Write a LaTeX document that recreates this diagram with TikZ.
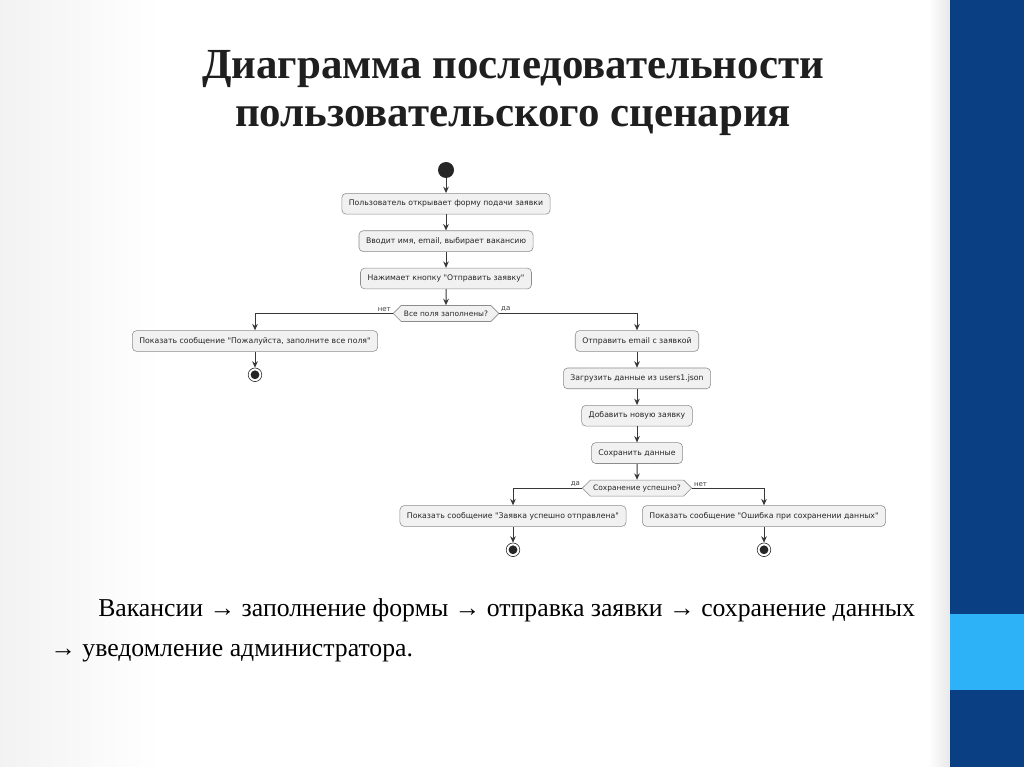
\documentclass[tikz,border=0pt]{standalone}
\usepackage{fontspec}
\setmainfont{Liberation Serif}
\newfontfamily\umlfont{DejaVu Sans}
\usetikzlibrary{shapes.symbols, arrows.meta, positioning, calc}

\definecolor{slideblue}{HTML}{0B3F83}
\definecolor{slidecyan}{HTML}{2EB2F7}
\definecolor{actfill}{HTML}{F1F1F1}
\definecolor{actline}{HTML}{8C8C8C}
\definecolor{flowline}{HTML}{383838}

\begin{document}
\begin{tikzpicture}[
    x=0.025cm, y=-0.025cm,
    node distance=0.4cm,
    act/.style={rectangle, draw=actline, fill=actfill, rounded corners=3pt, minimum height=0.52cm, inner xsep=5pt, font=\umlfont\fontsize{5.5}{7}\selectfont, text=black!85},
    decide/.style={signal, signal to=west and east, draw=actline, fill=actfill, minimum height=0.4cm, inner xsep=2pt, inner ysep=1pt, font=\umlfont\fontsize{5.3}{6}\selectfont, text=black!85},
    startdot/.style={circle, fill=black!85, minimum size=0.4cm, inner sep=0pt},
    stopdot/.style={circle, draw=black!85, fill=white, minimum size=0.34cm, inner sep=0pt, path picture={\fill[black!85] (path picture bounding box.center) circle (0.11cm);}},
    flow/.style={-{Stealth[length=1.6mm, width=1.4mm]}, draw=flowline, line width=0.7pt},
    branch/.style={font=\umlfont\fontsize{5}{6}\selectfont, text=black!75, inner sep=1pt},
]
% slide background
\useasboundingbox (0,0) rectangle (1024,767);
\fill[white] (0,0) rectangle (1024,767);
\shade[left color=black!5, right color=white] (0,0) rectangle (160,767);
\shade[left color=white, right color=black!9] (928,0) rectangle (950,767);
\fill[slideblue] (950,0) rectangle (1024,767);
\fill[slidecyan] (950,614) rectangle (1024,690);

% title
\node[font=\bfseries\fontsize{30.5}{33.5}\selectfont, text=black!88, align=center] (title) at (513,93) {Диаграмма последовательности\\пользовательского сценария};

% activity flow
\node[startdot] (start) at (446,170) {};
\node[act, below=0.37cm of start] (open) {Пользователь открывает форму подачи заявки};
\node[act, below=of open] (input) {Вводит имя, email, выбирает вакансию};
\node[act, below=of input] (submit) {Нажимает кнопку "Отправить заявку"};
\node[decide, below=of submit] (check) {Все поля заполнены?};

\node[act] (warn) at (255,341) {Показать сообщение "Пожалуйста, заполните все поля"};
\node[stopdot, below=of warn] (stop1) {};

\node[act] (mail) at (637,341) {Отправить email с заявкой};
\node[act, below=of mail] (load) {Загрузить данные из users1.json};
\node[act, below=of load] (append) {Добавить новую заявку};
\node[act, below=of append] (save) {Сохранить данные};
\node[decide, below=of save] (saved) {Сохранение успешно?};

\node[act] (done) at (513,516) {Показать сообщение "Заявка успешно отправлена"};
\node[act] (fail) at (764,516) {Показать сообщение "Ошибка при сохранении данных"};
\node[stopdot, below=of done] (stop2) {};
\node[stopdot, below=of fail] (stop3) {};

\draw[flow] (start) -- (open);
\draw[flow] (open) -- (input);
\draw[flow] (input) -- (submit);
\draw[flow] (submit) -- (check);
\draw[flow] (check.west) -| node[branch, pos=0, above left] {нет} (warn);
\draw[flow] (check.east) -| node[branch, pos=0, above right] {да} (mail);
\draw[flow] (warn) -- (stop1);
\draw[flow] (mail) -- (load);
\draw[flow] (load) -- (append);
\draw[flow] (append) -- (save);
\draw[flow] (save) -- (saved);
\draw[flow] (saved.west) -| node[branch, pos=0, above left] {да} (done);
\draw[flow] (saved.east) -| node[branch, pos=0, above right] {нет} (fail);
\draw[flow] (done) -- (stop2);
\draw[flow] (fail) -- (stop3);

% summary text
\node[anchor=base west, font=\fontsize{18.3}{22}\selectfont, inner sep=0pt] (summary1) at (98,616) {Вакансии → заполнение формы → отправка заявки → сохранение данных};
\node[anchor=base west, font=\fontsize{18.3}{22}\selectfont, inner sep=0pt] (summary2) at (50,656) {→ уведомление администратора.};
\end{tikzpicture}
\end{document}
